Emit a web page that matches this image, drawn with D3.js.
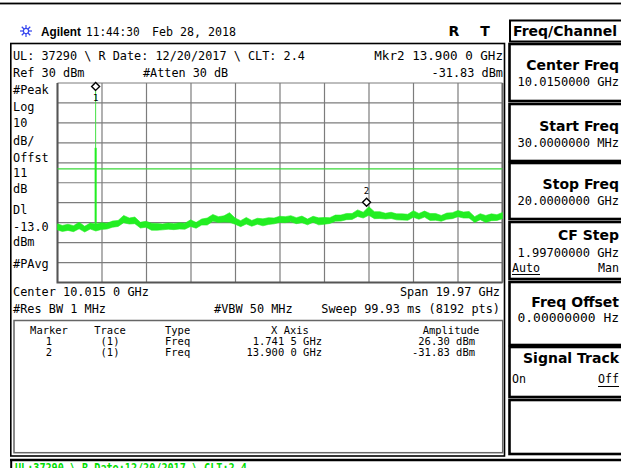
<!DOCTYPE html>
<html><head><meta charset="utf-8">
<script src="https://cdn.jsdelivr.net/npm/d3@7"></script>
<style>html,body{margin:0;padding:0;background:#fff;}svg{display:block}</style>
</head><body><svg id="c" width="621" height="468"></svg>
<script>
// ---------- data ----------
const startGHz = 0.03, stopGHz = 20.0;
const refLevel = 30, bottomLevel = -70;
const displayLineDbm = -13.0;
const xDivisionsGHz = [0.03, 2.027, 4.024, 6.021, 8.018, 10.015, 12.012, 14.009, 16.006, 18.003, 20.0];
const yDivisionsDbm = [30, 20, 10, 0, -10, -20, -30, -40, -50, -60, -70];

const traceFreqGHz = [0.03,0.25,0.5,0.75,1.0,1.25,1.5,1.75,2.0,2.25,
  2.5,2.75,3.0,3.25,3.5,3.75,4.0,4.25,4.5,4.75,
  5.0,5.25,5.5,5.75,6.0,6.25,6.5,6.75,7.0,7.25,
  7.5,7.75,8.0,8.25,8.5,8.75,9.0,9.25,9.5,9.75,
  10.0,10.25,10.5,10.75,11.0,11.25,11.5,11.75,12.0,12.25,
  12.5,12.75,13.0,13.25,13.5,13.75,14.0,14.25,14.5,14.75,
  15.0,15.25,15.5,15.75,16.0,16.25,16.5,16.75,17.0,17.25,
  17.5,17.75,18.0,18.25,18.5,18.75,19.0,19.25,19.5,19.75,20.0];
const traceHiDbm = [-40.6,-41.4,-40.8,-41.5,-39.8,-41.8,-40.2,-40.7,-40.0,-40.3,
  -39.2,-38.9,-36.4,-37.7,-37.2,-39.8,-39.3,-40.3,-40.4,-40.7,
  -40.2,-40.5,-40.1,-40.3,-38.6,-39.9,-38.2,-37.7,-35.9,-37.0,
  -36.6,-35.0,-37.7,-39.0,-37.4,-38.9,-37.8,-38.1,-37.5,-37.7,
  -36.8,-37.0,-36.5,-37.5,-36.7,-38.2,-36.8,-37.6,-37.4,-37.5,
  -36.2,-36.2,-35.4,-35.4,-33.6,-34.8,-32.0,-34.5,-34.5,-35.3,
  -34.8,-35.6,-35.6,-35.8,-34.0,-35.4,-34.2,-35.4,-35.4,-36.4,
  -35.2,-35.0,-33.9,-34.7,-34.4,-37.0,-35.5,-36.4,-35.6,-36.0,-34.9];
const traceLoDbm = [-43.7,-44.4,-43.9,-44.5,-43.1,-44.7,-43.2,-44.2,-43.4,-43.2,
  -42.3,-41.9,-40.0,-40.7,-40.5,-42.7,-42.3,-43.8,-43.8,-43.6,
  -43.3,-43.5,-43.2,-43.3,-41.9,-42.8,-41.2,-41.2,-39.3,-39.9,
  -39.7,-39.8,-40.8,-42.0,-40.7,-41.8,-40.8,-41.6,-40.9,-40.6,
  -39.9,-40.0,-39.6,-40.5,-40.0,-41.1,-39.8,-41.1,-40.8,-40.4,
  -39.3,-39.2,-38.5,-38.4,-36.9,-37.7,-36.3,-38.0,-37.9,-38.2,
  -37.9,-38.6,-38.7,-38.8,-37.3,-38.3,-37.2,-38.9,-38.8,-39.3,
  -38.3,-38.0,-37.0,-37.7,-37.7,-39.9,-38.5,-39.9,-39.0,-38.9,-38.0];

const spikeFreqGHz = 1.7415, spikePeakDbm = 26.3, spikeAvgTopDbm = -2.5, spikeBaseDbm = -42.0;

const markerIds = ["1", "2"];
const markerTraces = ["(1)", "(1)"];
const markerTypes = ["Freq", "Freq"];
const markerXLabels = ["1.741 5 GHz", "13.900 0 GHz"];
const markerFreqGHz = [1.7415, 13.9];
const markerAmpDbm = [26.30, -31.83];
const markerAmpLabels = ["26.30 dBm", "-31.83 dBm"];

const leftLabels = ["#Peak", "Log", "10", "dB/", "Offst", "11", "dB", "Dl", "-13.0", "dBm", "#PAvg"];
const softkeyTitles = ["Center Freq", "Start Freq", "Stop Freq", "CF Step", "Freq Offset", "Signal Track", ""];
const softkeyValues = ["10.0150000 GHz", "30.0000000 MHz", "20.0000000 GHz", "1.99700000 GHz", "0.00000000  Hz", "", ""];

// ---------- drawing ----------
const svg = d3.select("#c");
const MONO = "'DejaVu Sans Mono', 'Liberation Mono', monospace";
const BOLD = "'DejaVu Sans', sans-serif";

function mono(x, y, s, opts = {}) {
  const size = opts.size || 13, adv = opts.adv || 7.15;
  return svg.append("text").attr("x", x).attr("y", y)
    .attr("font-family", MONO).attr("font-size", size)
    .attr("text-anchor", opts.anchor || "start")
    .attr("textLength", s.length * adv).attr("lengthAdjust", "spacingAndGlyphs")
    .attr("fill", opts.fill || "#000").attr("font-weight", opts.weight || "normal")
    .text(s);
}
function boldT(x, y, s, opts = {}) {
  return svg.append("text").attr("x", x).attr("y", y)
    .attr("font-family", opts.family || BOLD).attr("font-weight", "bold")
    .attr("font-size", opts.size || 14).attr("text-anchor", opts.anchor || "end")
    .attr("fill", "#000").text(s);
}

// top line
svg.append("rect").attr("x", 0).attr("y", 2.6).attr("width", 621).attr("height", 1.8).attr("fill", "#000");

// header: star icon
const star = svg.append("g").attr("transform", "translate(26,31)");
[0, 45, 90, 135].forEach(a => {
  const r = a * Math.PI / 180;
  star.append("line").attr("x1", -6 * Math.cos(r)).attr("y1", -6 * Math.sin(r))
    .attr("x2", 6 * Math.cos(r)).attr("y2", 6 * Math.sin(r)).attr("stroke", "#3344ee").attr("stroke-width", 1.2);
});
star.append("circle").attr("r", 2.6).attr("fill", "#fff").attr("stroke", "#3344ee").attr("stroke-width", 1.3);

svg.append("text").attr("x", 41).attr("y", 36).attr("font-family", "'Liberation Sans', Arial, sans-serif")
  .attr("font-weight", "bold").attr("font-size", 13).attr("textLength", 40).attr("lengthAdjust", "spacingAndGlyphs").text("Agilent");
mono(86, 36, "11:44:30", { adv: 6.7 });
mono(152, 36, "Feb 28, 2018", { adv: 7.0 });
boldT(454, 36, "R", { anchor: "middle", size: 14 });
boldT(485, 36, "T", { anchor: "middle", size: 14 });

// right softkey title box
svg.append("rect").attr("x", 510).attr("y", 20.5).attr("width", 130).attr("height", 21).attr("fill", "#fff").attr("stroke", "#000").attr("stroke-width", 2);
boldT(513, 36, "Freq/Channel", { anchor: "start", size: 14 });

// softkey boxes
const skTop = [44, 104, 163, 222, 282, 347, 400];
const skBot = [101, 161, 219, 279, 345, 397, 454];
const skTitleY = [69.5, 131, 188.5, 239.5, 307, 362.5];
const skValY = [86, 146.5, 205, 256.5, 321.5];
skTop.forEach((t, i) => {
  svg.append("rect").attr("x", 509.5).attr("y", t).attr("width", 130).attr("height", skBot[i] - t)
    .attr("fill", "#fff").attr("stroke", "#000").attr("stroke-width", 2.6);
  if (softkeyTitles[i]) boldT(619, skTitleY[i], softkeyTitles[i], { size: 14 });
  if (softkeyValues[i]) mono(619, skValY[i], softkeyValues[i], { anchor: "end", adv: 7.25 });
});
// CF Step Auto/Man
mono(512, 271.5, "Auto", { adv: 7.0 });
svg.append("line").attr("x1", 512).attr("x2", 540).attr("y1", 274.5).attr("y2", 274.5).attr("stroke", "#000");
mono(619, 271.5, "Man", { anchor: "end", adv: 7.0 });
// Signal track On/Off
mono(512, 383, "On", { adv: 7.0 });
mono(619, 383, "Off", { anchor: "end", adv: 7.0 });
svg.append("line").attr("x1", 598).attr("x2", 619).attr("y1", 386.5).attr("y2", 386.5).attr("stroke", "#000");

// main box
svg.append("rect").attr("x", 10.8).attr("y", 43.5).attr("width", 493.7).attr("height", 412.5)
  .attr("fill", "none").attr("stroke", "#000").attr("stroke-width", 1.6);
// marker table box
svg.append("rect").attr("x", 14).attr("y", 320.5).attr("width", 488.7).attr("height", 132.2)
  .attr("fill", "none").attr("stroke", "#666").attr("stroke-width", 1.5);

// bottom strip
svg.append("line").attr("x1", 10).attr("x2", 621).attr("y1", 460).attr("y2", 460).attr("stroke", "#000").attr("stroke-width", 2.4);
svg.append("line").attr("x1", 11.2).attr("x2", 11.2).attr("y1", 459).attr("y2", 468).attr("stroke", "#000").attr("stroke-width", 2);
mono(15, 472, "UL:37290 \\ R Date:12/20/2017 \\ CLT:2.4", { size: 11.5, adv: 6.1, fill: "#00dd00", weight: "bold" });

// annotations top of screen
mono(13, 59.5, "UL: 37290 \\ R Date: 12/20/2017 \\ CLT: 2.4", { adv: 7.12 });
mono(13, 77, "Ref 30 dBm");
mono(143, 77, "#Atten 30 dB", { adv: 7.1 });
mono(503, 59.5, "Mkr2  13.900 0 GHz", { anchor: "end" });
mono(503, 77, "-31.83 dBm", { anchor: "end" });

// left labels
const leftY = [93.5, 110.5, 127, 144.5, 162, 176.5, 193, 213.5, 230.5, 246, 267.5];
leftLabels.forEach((s, i) => mono(13, leftY[i], s));

// bottom annotations
mono(13, 296, "Center 10.015 0 GHz");
mono(500, 296, "Span 19.97 GHz", { anchor: "end" });
mono(13, 313, "#Res BW 1 MHz");
mono(214, 313, "#VBW 50 MHz");
mono(500, 313, "Sweep 99.93 ms (8192 pts)", { anchor: "end" });

// marker table
const tcfg = { size: 10.5, adv: 6.3 };
mono(49, 334, "Marker", { ...tcfg, anchor: "middle" });
mono(110, 334, "Trace", { ...tcfg, anchor: "middle" });
mono(165, 334, "Type", tcfg);
mono(290, 334, "X Axis", { ...tcfg, anchor: "middle" });
mono(451, 334, "Amplitude", { ...tcfg, anchor: "middle" });
const rowY = [345, 355.5];
markerIds.forEach((m, i) => {
  mono(49, rowY[i], m, { ...tcfg, anchor: "middle" });
  mono(110, rowY[i], markerTraces[i], { ...tcfg, anchor: "middle" });
  mono(165, rowY[i], markerTypes[i], tcfg);
  mono(322, rowY[i], markerXLabels[i], { ...tcfg, anchor: "end" });
  mono(475, rowY[i], markerAmpLabels[i], { ...tcfg, anchor: "end" });
});

// ---------- plot ----------
const x = d3.scaleLinear().domain([startGHz, stopGHz]).range([57.5, 502.5]);
const y = d3.scaleLinear().domain([bottomLevel, refLevel]).range([282.5, 83]);

const grid = svg.append("g");
grid.selectAll("line.v").data(xDivisionsGHz).join("line")
  .attr("x1", d => x(d)).attr("x2", d => x(d)).attr("y1", y(refLevel)).attr("y2", y(bottomLevel))
  .attr("stroke", "#7c7c7c").attr("stroke-width", 1.2);
grid.selectAll("line.h").data(yDivisionsDbm).join("line").attr("class", "h")
  .attr("x1", x(startGHz)).attr("x2", x(stopGHz)).attr("y1", d => y(d)).attr("y2", d => y(d))
  .attr("stroke", "#7c7c7c").attr("stroke-width", 1.2);
svg.append("path").attr("d", `M${x(startGHz)},${y(refLevel)}V${y(bottomLevel)}H${x(stopGHz)}`)
  .attr("fill", "none").attr("stroke", "#555").attr("stroke-width", 2);
svg.append("line").attr("x1", x(stopGHz)).attr("x2", x(stopGHz)).attr("y1", y(refLevel)).attr("y2", y(bottomLevel))
  .attr("stroke", "#666").attr("stroke-width", 2);

// display line
svg.append("line").attr("x1", x(startGHz)).attr("x2", x(stopGHz))
  .attr("y1", y(displayLineDbm)).attr("y2", y(displayLineDbm)).attr("stroke", "#3ad83a").attr("stroke-width", 1.2);

const GREEN = "#22ee22";
// spike
svg.append("line").attr("x1", x(spikeFreqGHz)).attr("x2", x(spikeFreqGHz))
  .attr("y1", y(spikeBaseDbm)).attr("y2", y(spikePeakDbm)).attr("stroke", "#44e044").attr("stroke-width", 1);
svg.append("line").attr("x1", x(spikeFreqGHz)).attr("x2", x(spikeFreqGHz))
  .attr("y1", y(spikeBaseDbm)).attr("y2", y(spikeAvgTopDbm)).attr("stroke", GREEN).attr("stroke-width", 2);

// noise trace
const traceData = traceFreqGHz.map((f, i) => ({ f, hi: traceHiDbm[i], lo: traceLoDbm[i] }));
svg.append("path").datum(traceData)
  .attr("d", d3.area().x(d => x(d.f)).y0(d => y(d.lo)).y1(d => y(d.hi)))
  .attr("fill", GREEN).attr("stroke", GREEN).attr("stroke-width", 0.6);

// markers
markerIds.forEach((m, i) => {
  const mx = x(markerFreqGHz[i]), my = y(markerAmpDbm[i]);
  svg.append("path").attr("d", `M${mx},${my}L${mx - 4},${my - 4}L${mx},${my - 8}L${mx + 4},${my - 4}Z`)
    .attr("fill", "#fff").attr("stroke", "#000").attr("stroke-width", 1.4);
  const ly = i === 0 ? my + 11 : my - 12;
  mono(mx, ly, m, { size: 9.5, adv: 5.5, anchor: "middle" });
});
</script></body></html>
